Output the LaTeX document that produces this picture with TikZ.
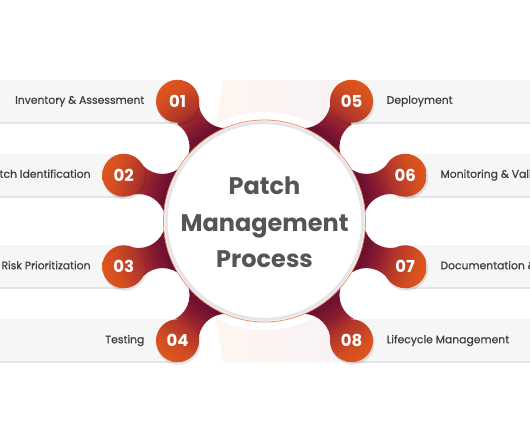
\documentclass[tikz,border=0pt]{standalone}
\usepackage{fontspec}
\setmainfont{Poppins}
\usetikzlibrary{calc}
\definecolor{mar}{HTML}{6E1131}
\definecolor{mid1}{HTML}{8A1C30}
\definecolor{mid2}{HTML}{B3372A}
\definecolor{org1}{HTML}{D24D21}
\definecolor{org2}{HTML}{E2591C}
\definecolor{barfill}{HTML}{F6F6F7}
\definecolor{barline}{HTML}{E3E3E8}
\definecolor{txt}{HTML}{3E3E3E}
\definecolor{titlec}{HTML}{555555}
\definecolor{ringg}{HTML}{E4E4EA}
\definecolor{ringo}{HTML}{E8926A}
\definecolor{panl}{HTML}{FDF6EF}
\definecolor{panr}{HTML}{F9F2F6}
\pgfdeclareradialshading{neckshade}{\pgfpoint{0bp}{0bp}}{color(0bp)=(mar); color(15.3bp)=(mar); color(17.2bp)=(mid1); color(19.6bp)=(mid2); color(22.5bp)=(org1); color(25bp)=(org2); color(50bp)=(org2)}
\tikzset{
  lbl/.style={inner sep=0pt, text=txt, font=\fontsize{10.8}{12}\selectfont\addfontfeature{FakeBold=0.6}},
  numtxt/.style={inner sep=0pt, text=white, font=\fontsize{16.5}{18}\selectfont\bfseries},
  ttl/.style={inner sep=0pt, text=titlec, font=\fontsize{24}{28}\selectfont\bfseries, anchor=base},
  barbox/.style={fill=barfill},
  baredge/.style={draw=barline, line width=1.5pt}
}
\begin{document}
\begin{tikzpicture}[x=1pt,y=-1pt]
\useasboundingbox (0,0) rectangle (530,442);
\fill[white] (0,0) rectangle (530,442);
\coordinate (C) at (264.5,221);
% faint background panel
\shade[left color=panl, right color=panr] (223,80) -- (340,80) -- (340,362) -- (223,362) -- (200,221) -- cycle;
% white halo round the main circle
\fill[white] (C) circle (109pt);
% number centres
\foreach \i/\a in {1/234,2/198,3/162,4/126,5/306,6/342,7/18,8/54}
  \coordinate (n\i) at ($(C)+(\a:148)$);
% necks, with the round cut-outs left open
\begin{scope}[even odd rule]
\clip (-20,-20) rectangle (550,460)
  \foreach \a in {252,216,180,144,108,288,324,0,36,72} { ($(C)+(\a:126)$) circle (27pt) };
\begin{scope}
\clip \foreach \a in {234,198,162,126,306,342,18,54} {
  (C) -- ($(C)+({\a-18}:126)$) -- ($(C)+(\a:148)$) -- ($(C)+({\a+18}:126)$) -- cycle };
\shade[shading=neckshade] (C) circle (172pt);
\end{scope}
\end{scope}
% bars
\foreach \i in {1,2,3,4} {
  \fill[barbox] ($(n\i)+(0,-21.5)$) rectangle ($(n\i)+(-200,21.5)$);
  \draw[baredge] ($(n\i)+(0,21.5)$) -- ($(n\i)+(-200,21.5)$);
}
\foreach \i in {5,6,7,8} {
  \fill[barbox] ($(n\i)+(0,-21.5)$) rectangle ($(n\i)+(200,21.5)$);
  \draw[baredge] ($(n\i)+(0,21.5)$) -- ($(n\i)+(200,21.5)$);
}
% shadows of number circles
\foreach \i in {1,...,8}
  \fill[black, opacity=0.10] ($(n\i)+(1,2)$) circle (22pt);
% number circles
\begin{scope}
\clip \foreach \i in {1,...,8} { (n\i) circle (21.5pt) };
\shade[shading=neckshade] (C) circle (172pt);
\end{scope}
% main circle
\fill[white] (C) circle (101pt);
\draw[ringo, line width=0.8pt] (C) circle (101pt);
\draw[ringg, line width=3pt] (C) circle (98.3pt);
% title
\node[ttl] (t1) at ($(C)+(0,-27)$) {Patch};
\node[ttl] (t2) at ($(C)+(0,10)$) {Management};
\node[ttl] (t3) at ($(C)+(0,46)$) {Process};
% numbers
\foreach \i in {1,...,8}
  \node[numtxt] (m\i) at (n\i) {0\i};
% labels
\node[lbl, anchor=base east] (l1) at ($(n1)+(-33,2.5)$) {Inventory \& Assessment};
\node[lbl, anchor=base east] (l2) at ($(n2)+(-33,2.5)$) {Patch Identification};
\node[lbl, anchor=base east] (l3) at ($(n3)+(-33,2.5)$) {Risk Prioritization};
\node[lbl, anchor=base east] (l4) at ($(n4)+(-33,2.5)$) {Testing};
\node[lbl, anchor=base west] (l5) at ($(n5)+(35,2.5)$) {Deployment};
\node[lbl, anchor=base west] (l6) at ($(n6)+(35,2.5)$) {Monitoring \& Validation};
\node[lbl, anchor=base west] (l7) at ($(n7)+(35,2.5)$) {Documentation \& Reporting};
\node[lbl, anchor=base west] (l8) at ($(n8)+(35,2.5)$) {Lifecycle Management};
\end{tikzpicture}
\end{document}
